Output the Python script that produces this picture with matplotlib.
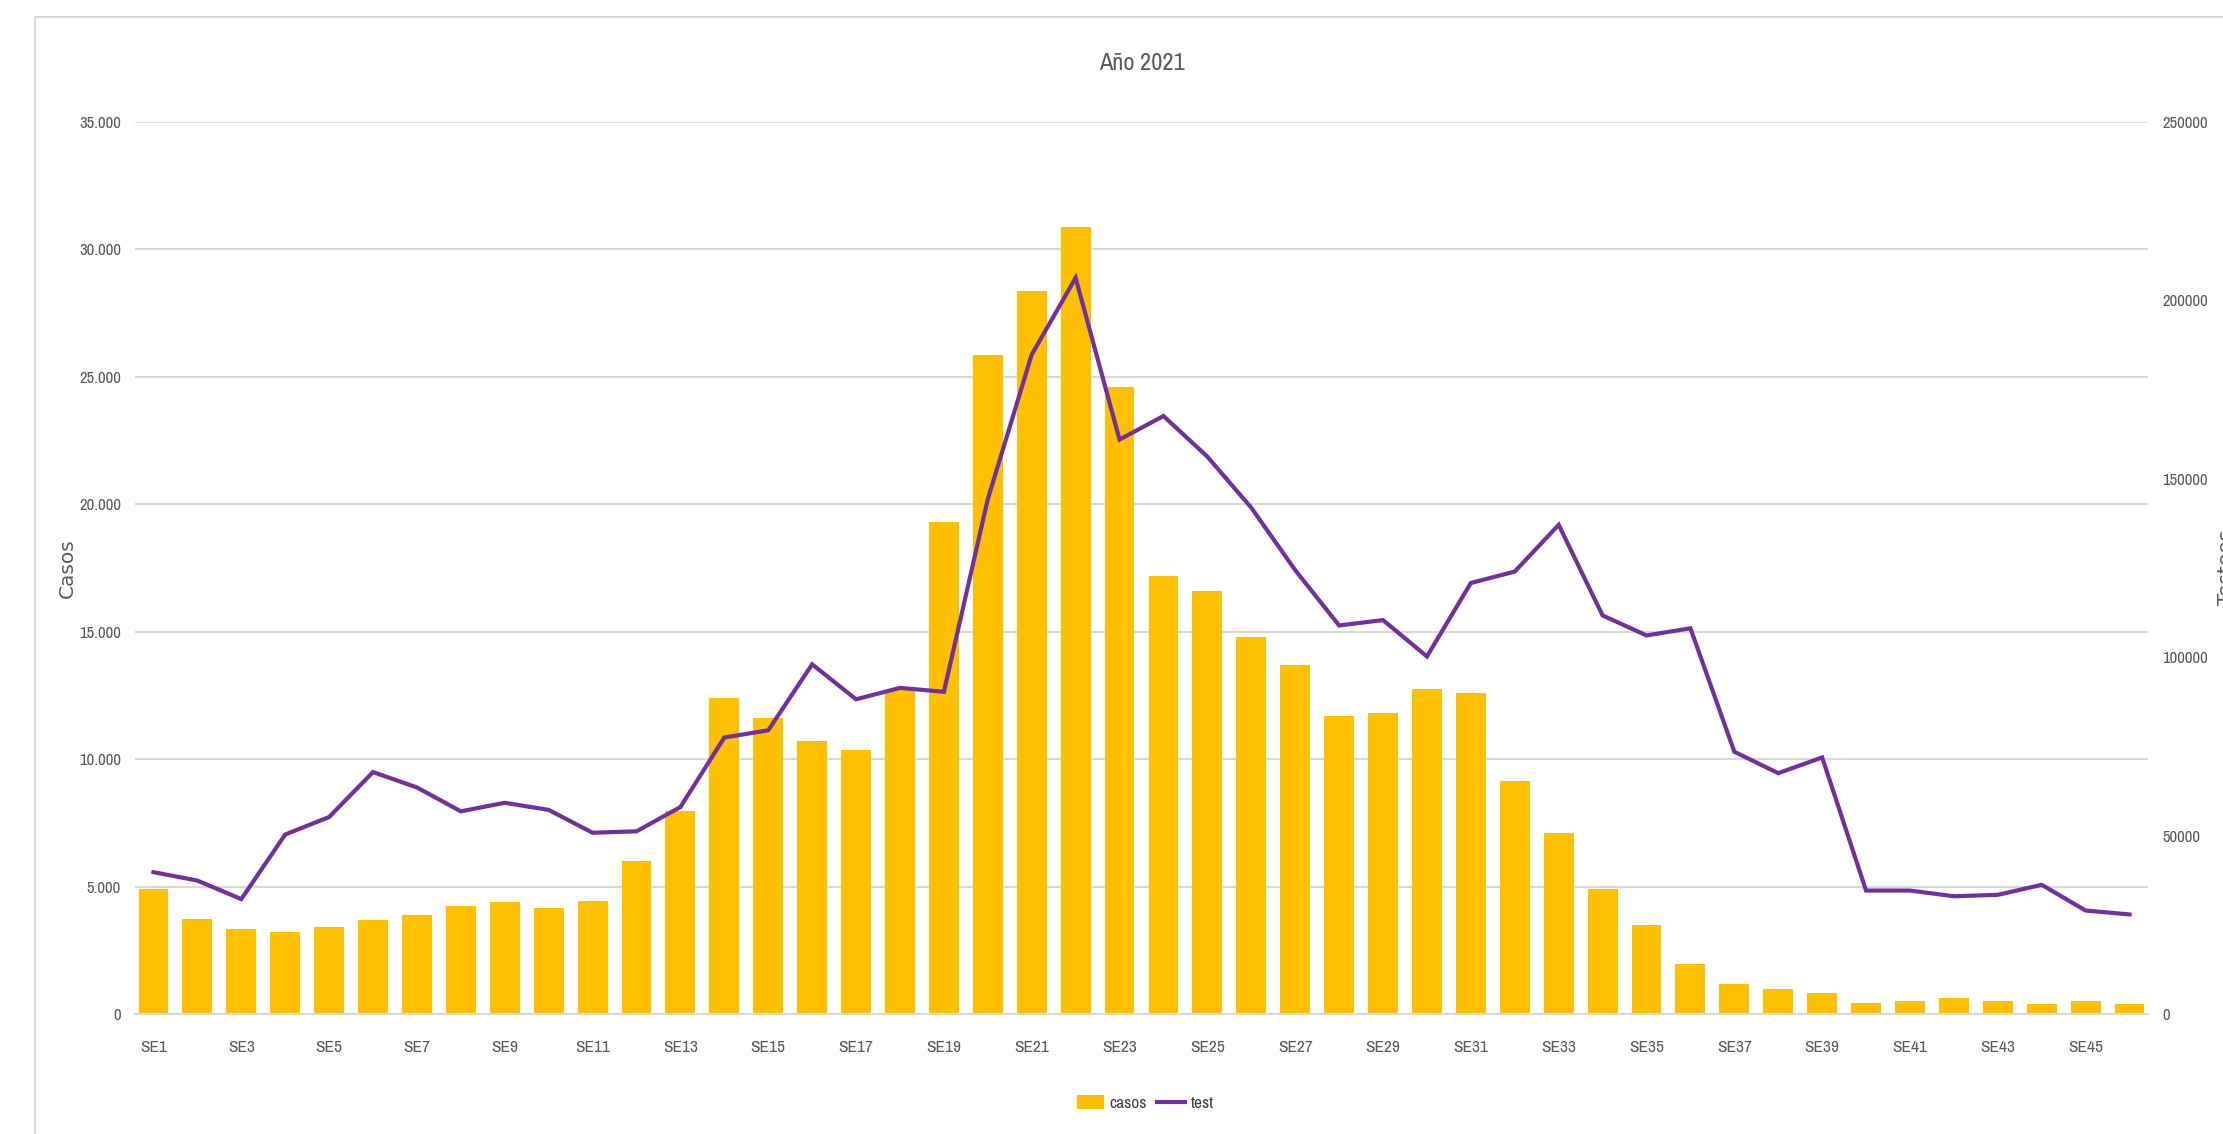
import matplotlib
matplotlib.use("Agg")
import matplotlib.pyplot as plt
from matplotlib.patches import Rectangle
from matplotlib import font_manager

weeks = [f"SE{i}" for i in range(1, 47)]
casos = [4900, 3730, 3350, 3230, 3400, 3670, 3900, 4230, 4400, 4170,
         4450, 6000, 7950, 12400, 11600, 10700, 10350, 12700, 19300, 25870,
         28380, 30880, 24600, 17200, 16580, 14800, 13690, 11690, 11800, 12740,
         12580, 9130, 7120, 4900, 3500, 1950, 1170, 1000, 830, 450,
         500, 610, 500, 390, 500, 390]
test = [39750, 37400, 32200, 50300, 55200, 67800, 63500, 56800, 59200, 57200,
        50800, 51200, 58000, 77500, 79500, 98000, 88200, 91400, 90300, 144300,
        184800, 206300, 161000, 167600, 156200, 141900, 124400, 108900, 110400, 100200,
        120800, 124000, 137100, 111700, 106100, 108100, 73500, 67500, 71900, 34600,
        34600, 33000, 33400, 36200, 29000, 27900]
left_ticks = [0, 5000, 10000, 15000, 20000, 25000, 30000, 35000]
right_ticks = [0, 50000, 100000, 150000, 200000, 250000]

avail = {f.name for f in font_manager.fontManager.ttflist}
narrow_candidates = [f.name for f in font_manager.fontManager.ttflist
                     if ("Narrow" in f.name or "Condensed" in f.name)]
if narrow_candidates:
    narrow = sorted(narrow_candidates)[0]
    nscale = 1.0
else:
    narrow = "Liberation Sans" if "Liberation Sans" in avail else "DejaVu Sans"
    nscale = 0.85
wide = "DejaVu Sans"

W, H = 2223, 1134
fig = plt.figure(figsize=(W / 100, H / 100), dpi=100)
fig.patches.append(Rectangle((35 / W, -0.1), 1.2, 1 - 17 / H + 0.1, transform=fig.transFigure,
                             fill=False, edgecolor="#D9D9D9", linewidth=1.5))

ax = fig.add_axes([135 / W, 1 - 1014 / H, (2148 - 135) / W, (1014 - 122) / H])
x = list(range(len(weeks)))
bars = ax.bar(x, casos, width=0.68, color="#FFC000", label="casos", zorder=2)
ax.set_ylim(0, 35000)
ax.set_xlim(-0.42, len(weeks) - 0.58)
ax.set_yticks(left_ticks)
ax.set_yticklabels([f"{v:,}".replace(",", ".") for v in left_ticks])
ax.grid(axis="y", color="#D9D9D9", linewidth=1.5, zorder=0)
ax.set_axisbelow(True)
for s in ["top", "right", "left"]:
    ax.spines[s].set_visible(False)
ax.spines["bottom"].set_color("#D9D9D9")
ax.spines["bottom"].set_linewidth(1.5)
ax.tick_params(axis="y", length=0, pad=10, labelcolor="#595959", labelsize=12 * nscale)
for t in ax.get_yticklabels():
    t.set_family(narrow)
ax.set_xticks(x[::2])
ax.set_xticklabels(weeks[::2], family=narrow, fontsize=12.5 * nscale, color="#595959")
ax.tick_params(axis="x", length=0, pad=19)
ax.set_ylabel("Casos", family=wide, fontsize=14.5, color="#595959")
ax.yaxis.set_label_coords((77 - 135) / (2148 - 135), 0.5)

ax2 = ax.twinx()
ln, = ax2.plot(x, test, color="#7030A0", linewidth=3, label="test", zorder=3,
               solid_joinstyle="miter")
ax2.set_ylim(0, 250000)
ax2.set_yticks(right_ticks)
ax2.set_yticklabels([str(v) for v in right_ticks])
for s in ["top", "right", "left", "bottom"]:
    ax2.spines[s].set_visible(False)
ax2.tick_params(axis="y", length=0, pad=10, labelcolor="#595959", labelsize=12 * nscale)
for t in ax2.get_yticklabels():
    t.set_family(narrow)
fig.text(2217 / W, 1 - 567 / H, "Testeos", rotation=90, ha="left", va="center",
         family=wide, fontsize=14.5, color="#595959")

fig.text(1142 / W, 1 - 64 / H, "Año 2021", ha="center", va="center",
         family=narrow, fontsize=17.5 * nscale, color="#595959")

leg = fig.legend([bars, ln], ["casos", "test"], loc="center", bbox_to_anchor=(1145 / W, 1 - 1103 / H),
                 ncol=2, frameon=False, prop={"family": narrow, "size": 12.5 * nscale},
                 handlelength=1.6, handleheight=0.9, handletextpad=0.3, columnspacing=0.6)
for t in leg.get_texts():
    t.set_color("#404040")

fig.savefig("out.png", dpi=100)
